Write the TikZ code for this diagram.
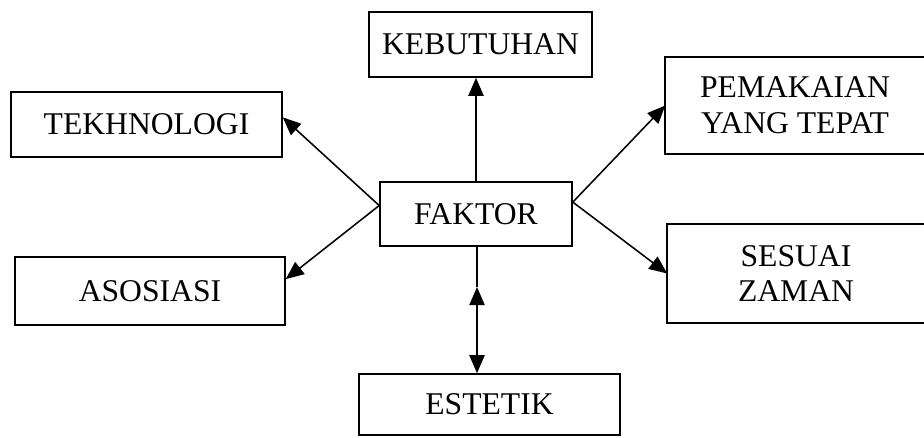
\documentclass[tikz,border=0pt]{standalone}
\usepackage{fontspec}
\setmainfont{Liberation Serif}
\usetikzlibrary{arrows.meta}

\begin{document}
\begin{tikzpicture}[
    x=0.025cm, y=-0.025cm,
    open/.style={rectangle, line width=1.1pt, inner sep=0pt, align=center,
        font=\fontsize{22.5}{25.5}\selectfont},
    box/.style={open, draw},
    arr/.style={line width=1.1pt, -{Triangle[length=0.45cm, width=0.38cm]}}
]
\useasboundingbox (0,0) rectangle (924,437);

% Centre
\node[box, minimum width=4.8cm, minimum height=1.6cm] (faktor) at (476, 214) {FAKTOR};

% Top and bottom
\node[box, minimum width=5.575cm, minimum height=1.625cm] (kebutuhan) at (480.5, 44.5) {KEBUTUHAN};
\node[box, minimum width=6.525cm, minimum height=1.525cm] (estetik) at (489.5, 404.5) {ESTETIK};

% Left side
\node[box, minimum width=6.775cm, minimum height=1.625cm] (tekhnologi) at (146.5, 124.5) {TEKHNOLOGI};
\node[box, minimum width=6.75cm, minimum height=1.7cm] (asosiasi) at (150, 291) {ASOSIASI};

% Right side, open at the page edge
\node[open, minimum width=6.45cm, minimum height=2.375cm] (pemakaian) at (795, 105.5) {PEMAKAIAN\\YANG TEPAT};
\node[open, minimum width=6.4cm, minimum height=2.425cm] (sesuai) at (796, 273.5) {SESUAI\\ZAMAN};
\draw[line width=1.1pt] (pemakaian.north east) -- (pemakaian.north west) -- (pemakaian.south west) -- (pemakaian.south east);
\draw[line width=1.1pt] (sesuai.north east) -- (sesuai.north west) -- (sesuai.south west) -- (sesuai.south east);

% Arrows
\draw[arr] (faktor.north) -- (faktor.north |- kebutuhan.south);
\draw[arr] (faktor.175) -- (tekhnologi.3);
\draw[arr] (faktor.175) -- (asosiasi.5);
\draw[arr] (faktor.7) -- (pemakaian.west);
\draw[arr] (faktor.7) -- (sesuai.west);

\coordinate (mid) at (477, 287);
\draw[line width=1.1pt] (mid |- faktor.south) -- (mid);
\draw[line width=1.1pt, {Triangle[length=0.45cm, width=0.38cm]}-{Triangle[length=0.45cm, width=0.38cm]}] (mid) -- (mid |- estetik.north);

\end{tikzpicture}
\end{document}
